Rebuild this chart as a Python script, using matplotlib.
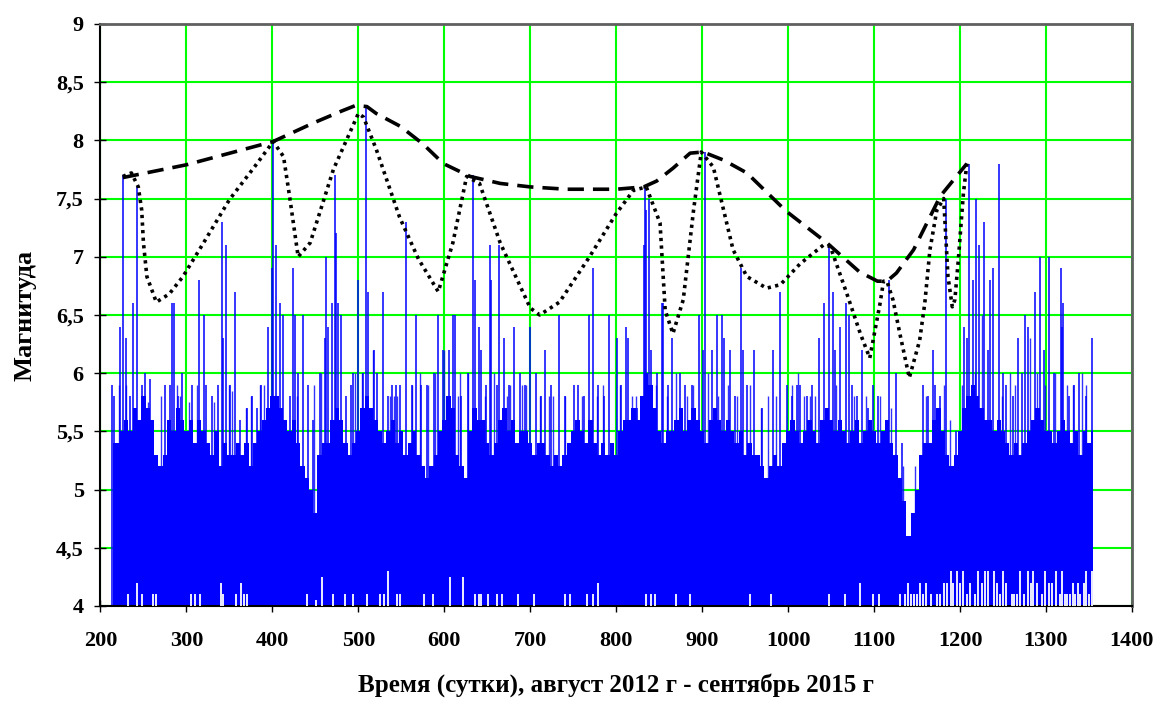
import numpy as np
import matplotlib
matplotlib.use("Agg")
import matplotlib.pyplot as plt

# solid part of the event series: top level every 5 days
fill_days = list(range(215, 1360, 5))
fill_top = [
    5.4, 5.4, 5.5, 5.6, 5.5, 5.7, 5.6, 5.8, 5.7, 5.6,
    5.3, 5.2, 5.3, 5.6, 5.5, 5.7, 5.6, 5.5, 5.6, 5.4,
    5.6, 5.5, 5.4, 5.3, 5.5, 5.2, 5.4, 5.3, 5.3, 5.4,
    5.3, 5.4, 5.2, 5.4, 5.5, 5.6, 5.7, 5.8, 5.8, 5.7,
    5.6, 5.5, 5.6, 5.4, 5.2, 5.1, 5.0, 4.8, 5.3, 5.4,
    5.4, 5.6, 5.7, 5.6, 5.4, 5.3, 5.4, 5.5, 5.7, 5.8,
    5.7, 5.6, 5.5, 5.4, 5.5, 5.6, 5.4, 5.5, 5.3, 5.4,
    5.5, 5.3, 5.2, 5.1, 5.2, 5.3, 5.5, 5.6, 5.8, 5.7,
    5.3, 5.2, 5.1, 5.5, 5.7, 5.6, 5.6, 5.4, 5.3, 5.4,
    5.6, 5.7, 5.5, 5.6, 5.4, 5.5, 5.5, 5.4, 5.3, 5.4,
    5.4, 5.3, 5.2, 5.3, 5.2, 5.3, 5.4, 5.5, 5.6, 5.5,
    5.4, 5.6, 5.4, 5.3, 5.4, 5.3, 5.4, 5.3, 5.5, 5.6,
    5.6, 5.7, 5.6, 5.8, 6.0, 5.9, 5.7, 5.5, 5.4, 5.5,
    5.5, 5.6, 5.7, 5.5, 5.6, 5.7, 5.6, 5.5, 5.4, 5.6,
    5.7, 5.6, 5.5, 5.6, 5.5, 5.4, 5.5, 5.3, 5.4, 5.3,
    5.3, 5.2, 5.1, 5.2, 5.3, 5.2, 5.4, 5.5, 5.6, 5.5,
    5.4, 5.5, 5.6, 5.5, 5.4, 5.6, 5.7, 5.6, 5.5, 5.6,
    5.5, 5.4, 5.5, 5.6, 5.4, 5.5, 5.6, 5.5, 5.4, 5.5,
    5.6, 5.4, 5.3, 5.1, 4.9, 4.6, 4.8, 5.0, 5.3, 5.4,
    5.4, 5.6, 5.7, 5.5, 5.3, 5.2, 5.3, 5.5, 5.7, 5.8,
    5.9, 5.8, 5.7, 5.6, 5.6, 5.5, 5.6, 5.5, 5.4, 5.3,
    5.4, 5.3, 5.4, 5.5, 5.6, 5.7, 5.6, 5.5, 5.5, 5.4,
    5.5, 5.6, 5.5, 5.4, 5.5, 5.3, 5.5, 5.4, 5.5,
]

# single events sticking out above the solid part
spike_days = [
    214, 216, 223, 226, 230, 234, 238, 243, 248, 252, 258, 275, 281, 283, 286, 290, 295,
    307, 315, 320, 323, 330, 337, 341, 342, 346, 351, 356, 362, 370, 376, 382, 387, 395,
    399, 401, 404, 409, 412, 420, 424, 426, 430, 436, 441, 447, 455, 461, 462, 465, 469,
    473, 474, 476, 480, 486, 492, 494, 500, 505, 509, 511, 518, 522, 529, 535, 539, 544,
    548, 555, 562, 567, 573, 580, 588, 593, 598, 605, 610, 612, 620, 628, 633, 636, 640,
    643, 648, 653, 654, 661, 664, 669, 675, 681, 688, 694, 700, 707, 712, 717, 724, 733,
    740, 751, 755, 762, 768, 773, 779, 786, 792, 801, 806, 811, 814, 824, 832, 833, 835,
    838, 840, 847, 853, 855, 860, 865, 874, 880, 888, 896, 901, 903, 912, 917, 923, 925,
    932, 938, 945, 947, 952, 960, 970, 983, 991, 999, 1005, 1010, 1014, 1022, 1028, 1036,
    1042, 1048, 1052, 1055, 1060, 1067, 1071, 1074, 1080, 1086, 1093, 1099, 1105, 1117,
    1126, 1133, 1157, 1163, 1169, 1171, 1177, 1184, 1195, 1205, 1208, 1210, 1215, 1219,
    1222, 1228, 1232, 1235, 1238, 1245, 1250, 1254, 1262, 1268, 1272, 1276, 1279, 1287,
    1293, 1298, 1303, 1309, 1317, 1319, 1320, 1327, 1333, 1339, 1346, 1353,
]
spike_mags = [
    5.9, 5.8, 6.4, 7.7, 6.3, 5.8, 6.6, 7.6, 5.9, 6.0, 5.95, 5.9, 5.9, 6.6, 6.6, 5.8, 6.0,
    5.9, 6.8, 6.5, 5.9, 5.8, 5.9, 7.3, 6.3, 7.1, 5.9, 6.7, 5.6, 5.7, 5.8, 5.7, 5.9, 6.4,
    6.9, 8.0, 7.1, 6.6, 6.5, 5.8, 6.9, 6.5, 6.0, 6.5, 5.9, 5.6, 6.0, 6.3, 7.0, 6.4, 6.6,
    7.7, 7.2, 6.6, 6.5, 5.8, 5.9, 6.0, 6.8, 6.0, 8.3, 6.7, 6.2, 6.0, 6.7, 5.8, 5.9, 5.9,
    5.9, 7.3, 5.9, 6.5, 5.9, 5.9, 6.0, 6.5, 6.2, 6.2, 6.5, 6.5, 5.8, 6.0, 7.7, 6.8, 6.4,
    6.2, 5.9, 7.1, 6.8, 5.9, 7.1, 6.3, 5.9, 6.4, 6.0, 5.9, 6.4, 6.0, 5.8, 6.2, 5.9, 6.5,
    5.8, 5.9, 5.9, 5.8, 6.5, 6.9, 5.9, 5.8, 6.5, 6.3, 5.9, 6.4, 6.3, 5.7, 7.1, 7.6, 7.4,
    7.5, 6.2, 6.0, 6.6, 6.6, 5.9, 6.3, 6.0, 5.9, 5.9, 6.5, 6.2, 7.9, 6.2, 6.5, 6.5, 6.3,
    6.2, 5.8, 6.9, 6.2, 5.9, 6.2, 5.7, 6.2, 6.7, 5.9, 5.8, 5.9, 5.9, 5.8, 5.9, 6.3,
    6.6, 7.1, 6.7, 6.2, 6.4, 6.6, 6.5, 5.9, 5.8, 6.2, 5.7, 5.9, 5.8, 6.8,
    6.0, 5.4, 5.9, 5.8, 6.2, 5.9, 5.8, 7.5, 5.5, 6.4, 6.3, 7.8, 6.8, 7.5,
    7.1, 7.3, 6.2, 6.8, 6.9, 7.8, 6.0, 5.9, 5.8, 6.3, 6.0, 6.5, 6.4, 6.7,
    7.0, 6.2, 7.0, 6.0, 6.9, 6.4, 6.6, 5.8, 5.9, 6.0, 5.8, 6.3,
]

# smaller events just above the solid part
minor_days = [
    216, 222, 230, 255, 271, 289, 293, 303, 312, 332, 349, 353, 369, 375, 386, 390, 429,
    448, 456, 496, 504, 517, 537, 541, 545, 563, 572, 581, 589, 600, 616, 618, 628, 647,
    658, 673, 677, 691, 695, 711, 722, 727, 740, 760, 778, 785, 804, 818, 823, 846, 859,
    869, 882, 889, 907, 919, 930, 940, 956, 969, 977, 986, 1004, 1012, 1018, 1025, 1031,
    1056, 1077, 1091, 1107, 1120, 1134, 1148, 1161, 1181, 1188, 1202, 1218, 1225, 1249,
    1258, 1264, 1281, 1289, 1299, 1311, 1324, 1332, 1342, 1347,
]
minor_mags = [
    5.4, 5.9, 5.9, 5.75, 5.8, 5.9, 5.8, 5.75, 5.9, 5.75, 5.9, 5.85, 5.7, 5.8, 5.9, 5.9, 5.8,
    5.9, 6.0, 6.0, 6.0, 6.2, 5.8, 5.8, 5.8, 5.9, 6.0, 5.9, 6.0, 6.2, 5.8, 6.0, 6.0, 5.8,
    6.0, 5.8, 5.9, 5.9, 5.9, 5.8, 5.8, 5.8, 5.8, 5.8, 5.8, 5.9, 5.9, 5.8, 5.8, 5.9, 5.8,
    6.0, 5.8, 5.9, 6.0, 5.8, 5.9, 5.8, 5.9, 5.7, 5.8, 5.8, 5.9, 6.0, 5.8, 5.8, 5.8,
    5.9, 5.8, 5.8, 5.8, 5.7, 5.2, 5.2, 5.8, 5.9, 5.6, 5.9, 6.0, 6.5, 5.8,
    6.0, 5.9, 6.3, 6.0, 5.9, 6.0, 5.9, 5.9, 6.0, 5.9,
]

# white slivers at the bottom where the series drops low
gap_days = [
    232, 242, 248, 261, 265, 305, 310, 316, 340, 343, 358, 364, 367, 371, 440, 451, 458,
    471, 484, 494, 510, 525, 530, 535, 545, 548, 576, 587, 607, 622, 636, 640, 643, 651,
    661, 667, 686, 704, 740, 746, 766, 773, 779, 835, 841, 845, 870, 886, 956, 980, 1047,
    1066, 1084, 1099, 1106, 1130, 1136, 1139, 1143, 1146, 1150, 1153, 1157, 1161, 1166,
    1173, 1177, 1181, 1185, 1189, 1192, 1196, 1200, 1204, 1208, 1212, 1217, 1221, 1225,
    1229, 1233, 1239, 1243, 1246, 1250, 1254, 1260, 1263, 1266, 1270, 1274, 1279, 1283,
    1285, 1290, 1295, 1299, 1303, 1307, 1312, 1316, 1319, 1322, 1325, 1328, 1331, 1334,
    1337, 1340, 1344, 1347, 1350, 1353,
]
gap_tops = [
    4.1, 4.2, 4.1, 4.1, 4.1, 4.1, 4.1, 4.1, 4.2, 4.1, 4.1, 4.2, 4.1, 4.1, 4.1, 4.05, 4.25,
    4.1, 4.1, 4.1, 4.1, 4.1, 4.1, 4.3, 4.1, 4.1, 4.1, 4.1, 4.25, 4.25, 4.1, 4.1, 4.1, 4.1,
    4.1, 4.1, 4.1, 4.1, 4.1, 4.1, 4.1, 4.1, 4.2, 4.1, 4.1, 4.1, 4.1, 4.1, 4.1, 4.1, 4.1,
    4.1, 4.2, 4.1, 4.1, 4.1, 4.1, 4.2, 4.1, 4.1, 4.1, 4.2, 4.1, 4.2, 4.1,
    4.1, 4.1, 4.2, 4.2, 4.3, 4.2, 4.3, 4.2, 4.3, 4.1, 4.2, 4.1, 4.3, 4.2,
    4.3, 4.3, 4.3, 4.2, 4.1, 4.3, 4.2, 4.1, 4.1, 4.1, 4.3, 4.1, 4.3, 4.2,
    4.3, 4.2, 4.1, 4.3, 4.2, 4.2, 4.3, 4.1, 4.3, 4.1, 4.1, 4.1, 4.2, 4.1,
    4.2, 4.1, 4.2, 4.3, 4.1, 4.3,
]

# dashed upper envelope
env_days = [226, 300, 401, 448, 480, 497, 510, 521, 549, 575, 599, 630, 665, 700, 742, 800,
            832, 847, 866, 886, 901, 925, 952, 998, 1045, 1083, 1104, 1115, 1126, 1146, 1177, 1208]
env_mags = [7.68, 7.79, 7.99, 8.15, 8.25, 8.30, 8.29, 8.23, 8.12, 7.97, 7.80, 7.69, 7.63, 7.60,
            7.58, 7.58, 7.60, 7.65, 7.76, 7.89, 7.90, 7.83, 7.72, 7.39, 7.12, 6.87, 6.79, 6.79,
            6.86, 7.06, 7.52, 7.80]

# dotted curve through the strongest events
dot_days = [226, 236, 244, 248, 250, 254, 265, 280, 296, 320, 350, 380, 401, 413, 420, 430,
            444, 471, 500, 506, 521, 548, 570, 593, 610, 626, 641, 665, 700, 711, 734, 769,
            800, 820, 835, 851, 857, 866, 878, 890, 899, 913, 936, 952, 975, 991, 1014, 1041,
            1049, 1068, 1084, 1095, 1107, 1111, 1115, 1122, 1130, 1141, 1153, 1159, 1165, 1173,
            1181, 1186, 1191, 1194, 1198, 1204, 1208]
dot_mags = [7.69, 7.72, 7.60, 7.40, 7.12, 6.83, 6.61, 6.68, 6.83, 7.12, 7.49, 7.78, 7.99, 7.86,
            7.52, 7.00, 7.12, 7.75, 8.23, 8.20, 7.92, 7.34, 6.98, 6.70, 7.12, 7.69, 7.63, 7.12,
            6.56, 6.50, 6.61, 7.00, 7.37, 7.57, 7.60, 7.29, 6.54, 6.34, 6.63, 7.40, 7.90, 7.77,
            7.06, 6.83, 6.73, 6.76, 6.94, 7.10, 7.09, 6.69, 6.34, 6.13, 6.60, 6.79, 6.79, 6.63,
            6.34, 5.96, 6.28, 6.60, 7.06, 7.40, 7.50, 6.83, 6.57, 6.63, 6.97, 7.55, 7.80]

yticks = [4, 4.5, 5, 5.5, 6, 6.5, 7, 7.5, 8, 8.5, 9]
ytick_labels = ['4', '4,5', '5', '5,5', '6', '6,5', '7', '7,5', '8', '8,5', '9']
xticks = list(range(200, 1500, 100))

plt.rcParams['font.family'] = ['Liberation Serif', 'DejaVu Serif']
plt.rcParams['font.weight'] = 'bold'

fig = plt.figure(figsize=(11.6, 7.02), dpi=100)
ax = fig.add_axes([0.0866, 0.1368, 0.8892, 0.8291])

blue = '#0000ff'
ax.fill_between(fill_days, 4, fill_top, step='mid', color=blue, lw=0, zorder=2)
ax.vlines(spike_days, 4, spike_mags, color=blue, lw=1.1, zorder=2)
ax.vlines(minor_days, 4, minor_mags, color=blue, lw=1.0, alpha=0.8, zorder=2)
ax.vlines(gap_days, 4, gap_tops, color='white', lw=1.3, zorder=3)

ax.plot(dot_days, dot_mags, color='black', lw=2.6, linestyle=(0, (0.9, 1.2)), zorder=4)
ax.plot(env_days, env_mags, color='black', lw=2.6, linestyle=(0, (4.5, 2.5)), zorder=5)

ax.set_xlim(200, 1400)
ax.set_ylim(4, 9)
ax.set_xticks(xticks)
ax.set_yticks(yticks)
ax.set_yticklabels(ytick_labels)
ax.grid(True, color='#00ff00', lw=1.5)
ax.set_axisbelow(True)

ax.tick_params(axis='both', direction='inout', length=8, width=1, labelsize=16)
ax.tick_params(axis='x', pad=14)
ax.tick_params(axis='y', pad=8)

for s in ['top', 'right']:
    ax.spines[s].set_color('#606060')
    ax.spines[s].set_linewidth(2)
for s in ['left', 'bottom']:
    ax.spines[s].set_color('black')
    ax.spines[s].set_linewidth(1.5)

ax.set_xlabel('Время (сутки), август 2012 г - сентябрь 2015 г', fontsize=18,
              fontweight='bold', labelpad=16)
ax.set_ylabel('Магнитуда', fontsize=19, fontweight='bold', labelpad=14)

fig.savefig('out.png', dpi=100)
